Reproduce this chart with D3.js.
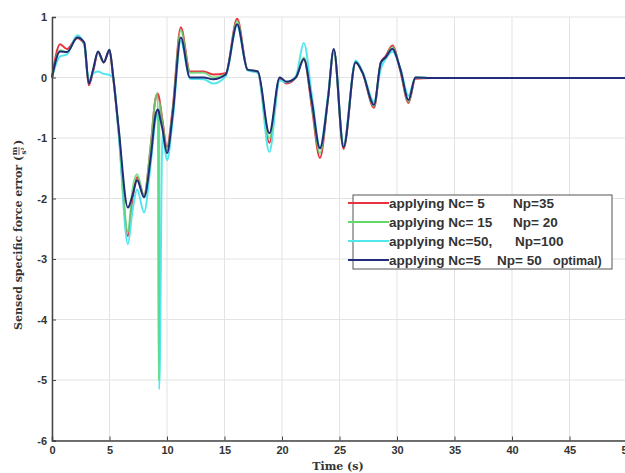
<!DOCTYPE html>
<html>
<head>
<meta charset="utf-8">
<script src="https://cdn.jsdelivr.net/npm/d3@7"></script>
<style>
  body { margin: 0; background: #fff; }
  svg { display: block; }
</style>
</head>
<body>
<svg width="625" height="473"></svg>
<script>
var svg = d3.select("svg"),
  width = +svg.attr("width"),
  height = +svg.attr("height");

// time knots (s)
const time = [0, 0.7, 1.3, 2.2, 2.8, 3.2, 3.6, 4.0, 4.5, 5.0, 5.3, 5.8, 6.6, 7.0, 7.4, 8.0, 8.6, 9.0, 9.2, 9.27, 9.3, 9.33, 9.6, 10.0, 10.5, 11.2,
  12.0, 13.2, 14.0, 15.1, 16.1, 17.0, 17.9, 18.9, 19.8, 20.4, 21.2, 21.9, 22.6, 23.3, 24.0, 24.5, 25.35, 26.4, 27.0, 28.0, 28.6, 29.0, 29.6,
  30.3, 31.0, 31.6, 33, 40, 50]

const red = [0, 0.55, 0.47, 0.65, 0.55, -0.13, 0.12, 0.42, 0.25, 0.45, 0.03, -0.9, -2.62, -2.0, -1.65, -1.95, -1.1, -0.35, -0.27, -0.3, -0.32, -0.35, -0.7, -1.15, -0.5, 0.83,
  0.1, 0.1, 0.05, 0.07, 0.97, 0.13, 0.08, -1.08, -0.02, -0.1, 0, 0.32, -0.5, -1.33, -0.35, 0.45, -1.18, 0.25, 0.08, -0.5, 0.25, 0.35, 0.53,
  0.1, -0.42, -0.02, -0.01, -0.01, -0.01]

const green = [0, 0.45, 0.42, 0.66, 0.57, -0.1, 0.15, 0.43, 0.25, 0.46, 0.05, -0.85, -2.55, -1.85, -1.6, -1.95, -1.1, -0.35, -0.25, -5.0, -5.0, -0.4, -0.75, -1.2, -0.55, 0.78,
  0.08, 0.08, 0, 0.05, 0.93, 0.13, 0.1, -1.0, 0, -0.07, 0, 0.33, -0.45, -1.25, -0.35, 0.45, -1.15, 0.25, 0.08, -0.47, 0.25, 0.33, 0.5,
  0.12, -0.4, 0, -0.01, -0.01, -0.01]

const cyan = [0, 0.35, 0.38, 0.7, 0.55, -0.05, 0.07, 0.1, 0.06, 0.04, 0, -0.95, -2.75, -2.2, -1.85, -2.23, -1.4, -0.7, -0.6, -0.65, -5.15, -5.15, -0.95, -1.37, -0.7, 0.6,
  -0.02, -0.03, -0.1, 0.02, 0.85, 0.12, 0.08, -1.23, -0.05, -0.08, 0.02, 0.57, -0.3, -1.15, -0.3, 0.45, -1.1, 0.28, 0.1, -0.4, 0.15, 0.3, 0.43,
  0.15, -0.3, 0, -0.01, -0.01, -0.01]

const navy = [0, 0.43, 0.42, 0.66, 0.58, -0.1, 0.15, 0.43, 0.25, 0.46, 0.05, -0.85, -2.15, -1.95, -1.7, -1.98, -1.3, -0.62, -0.53, -0.55, -0.57, -0.6, -0.85, -1.25, -0.6, 0.66,
  0, 0, -0.03, 0.05, 0.88, 0.13, 0.1, -0.92, 0, -0.07, 0, 0.3, -0.4, -1.17, -0.35, 0.47, -1.15, 0.25, 0.08, -0.45, 0.25, 0.33, 0.47,
  0.13, -0.37, 0, -0.01, -0.01, -0.01]

const seriesNames = ["applying Nc= 5", "applying Nc= 15", "applying Nc=50,", "applying Nc=5"]
const seriesNp = ["Np=35", "Np= 20", "Np=100", "Np= 50"]
const xTicks = [0, 5, 10, 15, 20, 25, 30, 35, 40, 45, 50]
const yTicks = [1, 0, -1, -2, -3, -4, -5, -6]

var x = d3.scaleLinear().domain([0, 50]).range([52, 627])
var y = d3.scaleLinear().domain([-6, 1]).range([440.5, 17])

// grid
var grid = svg.append("g")
grid.selectAll(".gx").data(xTicks).enter().append("line")
  .attr("x1", d => x(d)).attr("x2", d => x(d))
  .attr("y1", y(1)).attr("y2", y(-6))
  .attr("stroke", "#e3e3e3").attr("stroke-width", 1)
grid.selectAll(".gy").data(yTicks).enter().append("line")
  .attr("x1", x(0)).attr("x2", x(50))
  .attr("y1", d => y(d)).attr("y2", d => y(d))
  .attr("stroke", "#e3e3e3").attr("stroke-width", 1)

// lines
var line = d3.line()
  .x((d, i) => x(time[i]))
  .y(d => y(d))
  .curve(d3.curveMonotoneX)

const series = [
  {vals: red, color: "#e8343f", op: 1},
  {vals: cyan, color: "#52e6ee", op: 1},
  {vals: green, color: "#5fd873", op: 0.8},
  {vals: navy, color: "#222c78", op: 1}
]

svg.append("g").selectAll("path").data(series).enter()
  .append("path")
  .attr("d", d => line(d.vals))
  .attr("fill", "none")
  .attr("stroke", d => d.color)
  .attr("stroke-opacity", d => d.op)
  .attr("stroke-width", 2)
  .attr("stroke-linejoin", "round")

// axes
var xAxis = d3.axisBottom(x).tickValues(xTicks).tickSize(-4).tickPadding(6)
var yAxis = d3.axisLeft(y).tickValues(yTicks).tickSize(-4).tickPadding(5)
  .tickFormat(d => String(d))

var gx = svg.append("g").attr("transform", "translate(0," + y(-6) + ")").call(xAxis)
var gy = svg.append("g").attr("transform", "translate(" + x(0) + ",0)").call(yAxis)

gx.select(".domain").attr("stroke", "#444").attr("stroke-width", 1.5)
gy.select(".domain").attr("stroke", "#444").attr("stroke-width", 1.5)
svg.selectAll(".tick line").attr("stroke", "#444")
svg.selectAll(".tick text")
  .style("font-family", "Liberation Sans, Arial, sans-serif")
  .style("font-size", "11px")
  .style("font-weight", "bold")
  .attr("fill", "#333")

svg.append("text")
  .attr("x", 338)
  .attr("y", 470)
  .attr("text-anchor", "middle")
  .style("font-family", "DejaVu Serif, serif")
  .style("font-size", "11px")
  .style("font-weight", "bold")
  .attr("fill", "#333")
  .text("Time (s)")

// y label
var yl = svg.append("g").attr("transform", "translate(22,330) rotate(-90)")
var ylText = yl.append("text")
  .attr("x", 0).attr("y", 0)
  .style("font-family", "DejaVu Serif, serif")
  .style("font-size", "11px")
  .style("font-weight", "bold")
  .attr("fill", "#333")
  .text("Sensed specific force error (")
var w = ylText.node().getComputedTextLength()
yl.append("text").attr("x", w + 5).attr("y", -5).attr("text-anchor", "middle")
  .style("font-family", "DejaVu Serif, serif").style("font-size", "8px").style("font-weight", "bold")
  .attr("fill", "#333").text("m")
yl.append("line").attr("x1", w + 1).attr("x2", w + 9).attr("y1", -3).attr("y2", -3)
  .attr("stroke", "#333").attr("stroke-width", 0.8)
yl.append("text").attr("x", w + 5).attr("y", 4).attr("text-anchor", "middle")
  .style("font-family", "DejaVu Serif, serif").style("font-size", "7px").style("font-weight", "bold")
  .attr("fill", "#333").text("s²")
yl.append("text").attr("x", w + 11).attr("y", 0)
  .style("font-family", "DejaVu Serif, serif").style("font-size", "11px").style("font-weight", "bold")
  .attr("fill", "#333").text(")")

// legend
var legend = svg.append("g")
legend.append("rect")
  .attr("x", 353).attr("y", 195)
  .attr("width", 259).attr("height", 74)
  .attr("fill", "white")
  .attr("stroke", "#555").attr("stroke-width", 1)

var rows = legend.selectAll(".row").data([0, 1, 2, 3]).enter()
  .append("g")
  .attr("transform", (d, i) => "translate(0," + (203 + i * 19) + ")")

const legendColors = ["#e8343f", "#62d86a", "#52e6ee", "#222c78"]
rows.append("line")
  .attr("x1", 348).attr("x2", 389)
  .attr("stroke", d => legendColors[d]).attr("stroke-width", 2)

rows.append("text")
  .attr("x", 389).attr("y", 5)
  .style("font-family", "Liberation Sans, Arial, sans-serif")
  .style("font-size", "13.5px")
  .style("font-weight", "bold")
  .attr("fill", "#333")
  .text(d => seriesNames[d])

const npX = [513, 513, 515, 497]
rows.append("text")
  .attr("x", d => npX[d]).attr("y", 5)
  .style("font-family", "Liberation Sans, Arial, sans-serif")
  .style("font-size", "13.5px")
  .style("font-weight", "bold")
  .attr("fill", "#333")
  .text(d => seriesNp[d])

rows.filter(d => d == 3).append("text")
  .attr("x", 553).attr("y", 5)
  .style("font-family", "Liberation Sans, Arial, sans-serif")
  .style("font-size", "12.5px")
  .style("font-weight", "bold")
  .attr("fill", "#333")
  .text("optimal)")
</script>
</body>
</html>
